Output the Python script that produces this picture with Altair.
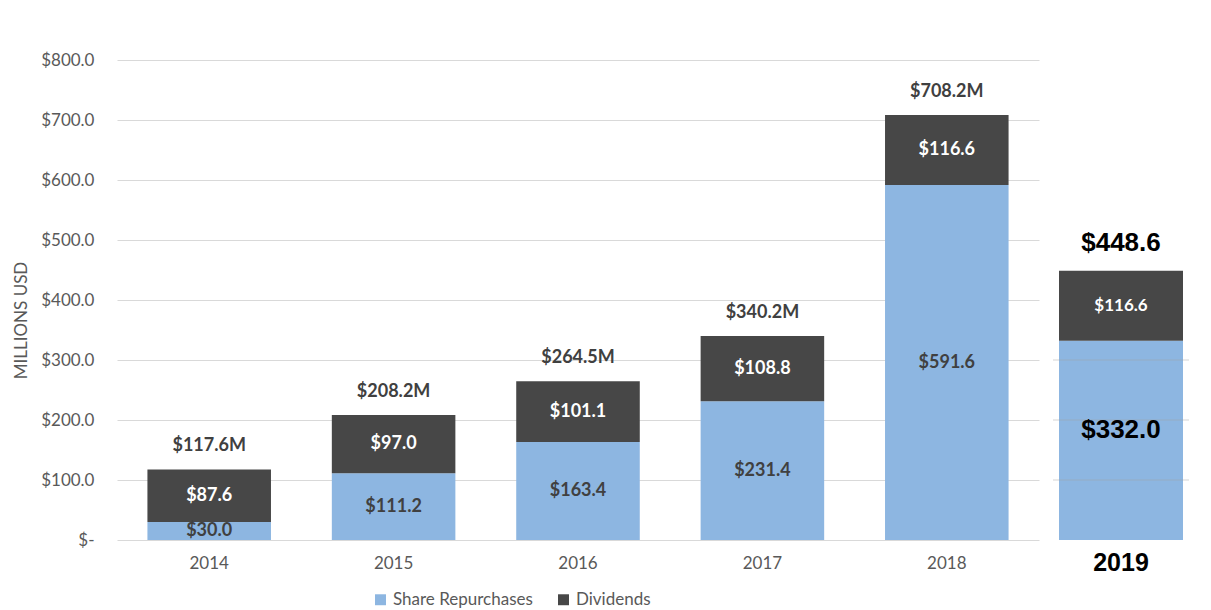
import altair as alt
import pandas as pd

years = ["2014", "2015", "2016", "2017", "2018"]
repurchases = [30.0, 111.2, 163.4, 231.4, 591.6]
dividends = [87.6, 97.0, 101.1, 108.8, 116.6]

year_2019 = ["2019"]
repurchases_2019 = [332.0]
dividends_2019 = [116.6]

series_names = ["Share Repurchases", "Dividends"]
y_ticks = [0, 100, 200, 300, 400, 500, 600, 700, 800]
panel_grid = [100, 200, 300]

BLUE = "#8DB6E1"
DARK = "#474747"
GRAY = "#595959"
FONT = "Lato"


def long_df(yrs, rep, div):
    rows = []
    for y, r, d in zip(yrs, rep, div):
        rows.append({"year": y, "series": series_names[0], "value": r, "order": 0})
        rows.append({"year": y, "series": series_names[1], "value": d, "order": 1})
    return pd.DataFrame(rows)


df_main = long_df(years, repurchases, dividends)
df_2019 = long_df(year_2019, repurchases_2019, dividends_2019)

y_scale = alt.Scale(domain=[0, 800], nice=False, zero=True)
color_scale = alt.Scale(domain=series_names, range=[BLUE, DARK])


def stacked(base):
    return base.transform_stack(
        stack="value", groupby=["year"], as_=["y0", "y1"],
        sort=[alt.SortField("order", order="ascending")]
    ).transform_calculate(mid="(datum.y0 + datum.y1) / 2")


# ---------- main panel ----------
base_main = alt.Chart(df_main)
x_main = alt.X(
    "year:N", sort=years, title=None,
    scale=alt.Scale(paddingInner=0.33, paddingOuter=0.165),
    axis=alt.Axis(labelAngle=0, labelFont=FONT, labelFontSize=17, labelColor=GRAY,
                  labelPadding=15, ticks=False, domain=False),
)

bars_main = stacked(base_main).mark_bar().encode(
    x=x_main,
    y=alt.Y("y1:Q", scale=y_scale, title="MILLIONS USD",
            axis=alt.Axis(values=y_ticks, grid=True, gridColor="#d9d9d9", domain=False,
                          ticks=False, labelPadding=23, labelFont=FONT, labelFontSize=17,
                          labelColor=GRAY, titleFont=FONT, titleFontSize=17,
                          titleColor=GRAY, titleFontWeight="normal", titlePadding=10,
                          titleY=260,
                          labelExpr="datum.value == 0 ? '$-' : '$' + format(datum.value, '.1f')")),
    y2="y0:Q",
    color=alt.Color("series:N", scale=color_scale, sort=series_names, title=None,
                    legend=alt.Legend(orient="none", direction="horizontal",
                                      legendX=255, legendY=531,
                                      symbolType="square", symbolSize=120,
                                      symbolStrokeWidth=0,
                                      labelFont=FONT, labelFontSize=17, labelColor=GRAY,
                                      columnPadding=22)),
)

seg_labels_main = stacked(base_main).mark_text(
    font=FONT, fontSize=18, fontWeight="bold", baseline="middle"
).encode(
    x=alt.X("year:N", sort=years),
    y=alt.Y("mid:Q", scale=y_scale),
    text=alt.Text("value:Q", format="$.1f"),
    color=alt.condition(alt.datum.series == "Dividends", alt.value("white"), alt.value("#404040")),
)

totals_main = base_main.transform_aggregate(
    total="sum(value)", groupby=["year"]
).transform_calculate(
    label="'$' + format(datum.total, '.1f') + 'M'"
).mark_text(
    font=FONT, fontSize=18, fontWeight="bold", color="#404040", baseline="middle", dy=-23
).encode(
    x=alt.X("year:N", sort=years),
    y=alt.Y("total:Q", scale=y_scale),
    text="label:N",
)

main = alt.layer(bars_main, seg_labels_main, totals_main).properties(width=922, height=480)

# ---------- 2019 panel ----------
base_19 = alt.Chart(df_2019)
x_19 = alt.X(
    "year:N", title=None,
    scale=alt.Scale(paddingInner=0, paddingOuter=0.0484),
    axis=alt.Axis(labelAngle=0, labelFont="Liberation Sans", labelFontSize=25,
                  labelFontWeight="bold", labelColor="black", labelPadding=10,
                  ticks=False, domain=False),
)

bars_19 = stacked(base_19).mark_bar().encode(
    x=x_19,
    y=alt.Y("y1:Q", scale=y_scale, axis=None),
    y2="y0:Q",
    color=alt.Color("series:N", scale=color_scale, sort=series_names, legend=None),
)

grid_19 = alt.Chart(pd.DataFrame({"v": panel_grid})).mark_rule(
    color="#a0a0a0", opacity=0.45, strokeWidth=1
).encode(y=alt.Y("v:Q", scale=y_scale, axis=None))

seg_div_19 = stacked(base_19).transform_filter(alt.datum.series == "Dividends").mark_text(
    font=FONT, fontSize=17, fontWeight="bold", color="white", baseline="middle"
).encode(
    x=alt.X("year:N"),
    y=alt.Y("mid:Q", scale=y_scale),
    text=alt.Text("value:Q", format="$.1f"),
)

seg_rep_19 = stacked(base_19).transform_filter(alt.datum.series == "Share Repurchases").mark_text(
    font="Liberation Sans", fontSize=26, fontWeight="bold", color="black",
    baseline="middle", dy=-10
).encode(
    x=alt.X("year:N"),
    y=alt.Y("mid:Q", scale=y_scale),
    text=alt.Text("value:Q", format="$.1f"),
)

totals_19 = base_19.transform_aggregate(
    total="sum(value)", groupby=["year"]
).mark_text(
    font="Liberation Sans", fontSize=26, fontWeight="bold", color="black",
    baseline="middle", dy=-28
).encode(
    x=alt.X("year:N"),
    y=alt.Y("total:Q", scale=y_scale),
    text=alt.Text("total:Q", format="$.1f"),
)

panel_19 = alt.layer(bars_19, grid_19, seg_div_19, seg_rep_19, totals_19).properties(
    width=136, height=480
)

chart = alt.hconcat(main, panel_19, spacing=13).resolve_scale(
    color="shared"
).properties(
    padding={"left": 4, "top": 43, "right": 5, "bottom": 5},
    background="white",
).configure_view(stroke=None)

chart.save("out.html", embed_options={"renderer": "svg", "actions": False})
